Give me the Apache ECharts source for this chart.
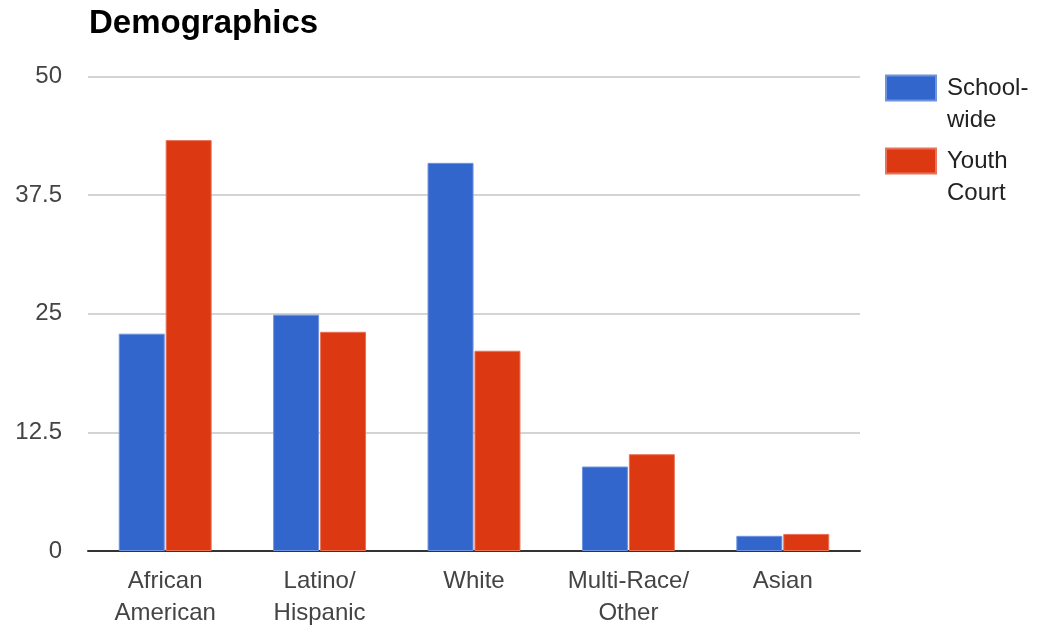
<!DOCTYPE html>
<html>
<head>
<meta charset="utf-8">
<script src="https://cdn.jsdelivr.net/npm/echarts@6/dist/echarts.min.js"></script>
<style>html,body{margin:0;padding:0;background:#fff}#c{width:1039px;height:629px}</style>
</head>
<body>
<div id="c"></div>
<script>
const categories = ['African\nAmerican', 'Latino/\nHispanic', 'White', 'Multi-Race/\nOther', 'Asian'];
const schoolWide = [22.9, 24.9, 40.9, 8.9, 1.6];
const youthCourt = [43.3, 23.1, 21.1, 10.2, 1.8];
const seriesNames = ['School-wide', 'Youth Court'];
const legendLabels = {'School-wide': ' \nSchool-\nwide', 'Youth Court': ' \nYouth\nCourt'};

const chart = echarts.init(document.getElementById('c'), null, {renderer: 'canvas'});
const font = 'Liberation Sans, Arial, sans-serif';
chart.setOption({
  animation: false,
  title: {
    text: 'Demographics', left: 84, top: 2,
    textStyle: {fontFamily: font, fontSize: 33, fontWeight: 'bold', color: '#000'}
  },
  legend: {
    orient: 'vertical', left: 880, top: 35,
    itemWidth: 50, itemHeight: 25, itemGap: -23,
    icon: 'rect', selectedMode: false,
    formatter: n => legendLabels[n],
    textStyle: {fontFamily: font, fontSize: 24, color: '#222', lineHeight: 32, padding: [0, 0, 0, 6]}
  },
  grid: {left: 88, right: 179, top: 76.5, bottom: 77.5, containLabel: false},
  xAxis: {
    type: 'category', data: categories,
    axisTick: {show: false},
    axisLine: {lineStyle: {color: '#333', width: 2}},
    axisLabel: {fontFamily: font, fontSize: 24, color: '#444', lineHeight: 32, margin: 14, interval: 0}
  },
  yAxis: {
    type: 'value', min: 0, max: 50, interval: 12.5,
    axisLine: {show: false}, axisTick: {show: false},
    splitLine: {lineStyle: {color: '#d4d4d4', width: 2}},
    axisLabel: {fontFamily: font, fontSize: 24, color: '#444', margin: 26}
  },
  series: [
    {name: seriesNames[0], type: 'bar', data: schoolWide, barWidth: 46, barGap: '2%',
     itemStyle: {color: '#3366cc', borderColor: '#6f93dc', borderWidth: 1}},
    {name: seriesNames[1], type: 'bar', data: youthCourt, barWidth: 46, barGap: '2%',
     itemStyle: {color: '#dc3912', borderColor: '#e8735a', borderWidth: 1}}
  ]
});
</script>
</body>
</html>
